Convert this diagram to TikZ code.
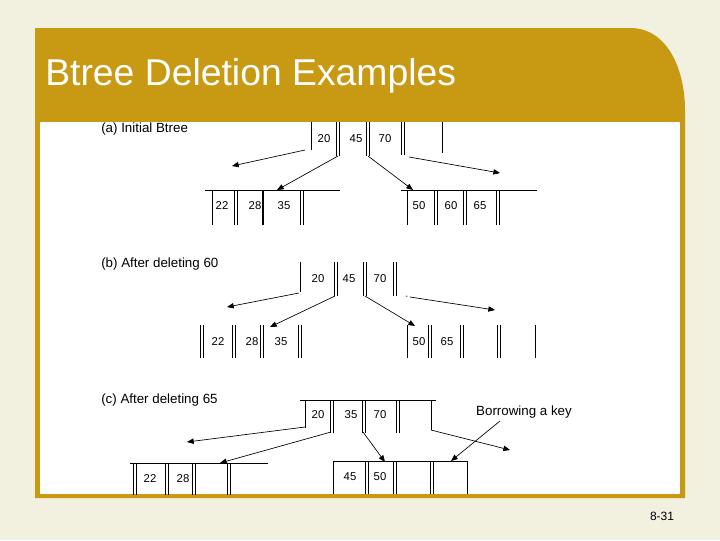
\documentclass[tikz,border=0pt]{standalone}
\usepackage{fontspec}
\setmainfont{Liberation Sans}
\definecolor{gold}{HTML}{C89A14}
\definecolor{bg}{HTML}{F2F0DE}
\tikzset{num/.style={font=\fontsize{8.5}{10}\selectfont,inner sep=0pt},
lab/.style={font=\fontsize{10}{12}\selectfont,inner sep=0pt,anchor=west},
ln/.style={line width=0.6pt},
ar/.style={-{Triangle[length=5pt,width=4pt]},line width=0.5pt}}
\usetikzlibrary{arrows.meta}
\newcommand{\sv}[3]{\draw[ln] (#1,#2)--(#1,#3);}
\newcommand{\dv}[3]{\draw[ln] (#1,#2)--(#1,#3); \draw[ln] ({#1+3.5},#2)--({#1+3.5},#3);}
\begin{document}
\begin{tikzpicture}[x=0.75pt,y=-0.75pt]
\fill[bg] (0,0) rectangle (720,540);
\useasboundingbox (0,0) rectangle (720,540);
\fill[gold] (35,28) -- (630,28) to[out=0,in=90] (685,110) -- (685,498) -- (35,498) -- cycle;
\fill[white] (40,122) rectangle (680,494);
\node[anchor=west,text=white,font=\fontsize{28}{32}\selectfont,inner sep=0pt] (title) at (45,76) {Btree Deletion Examples};
\node[font=\fontsize{9}{10}\selectfont,inner sep=0pt] (pg) at (662,516) {8-31};
% (a)
\node[lab] (la) at (101,129) {(a) Initial Btree};
\sv{311}{122}{150}\dv{336}{122}{156}\dv{366}{122}{156}\dv{401}{122}{155}\sv{442}{122}{153}
\node[num] (a20) at (324,139) {20};\node[num] (a45) at (356,139) {45};\node[num] (a70) at (385,139) {70};
\coordinate (a1) at (232,166);\coordinate (a2) at (500,173);
\draw[ar] (305,150)--(a1);\draw[ar] (338,156)--(277,190);\draw[ar] (368,156)--(413,190);\draw[ar] (409,157)--(a2);
\draw[ln] (205,190)--(340,190);
\sv{212}{190}{225}\dv{234}{190}{225}\draw[line width=1.2pt] (263,190)--(263,225);\dv{300}{190}{225}
\node[num] (a22) at (222,206) {22};\node[num] (a28) at (255,206) {28};\node[num] (a35) at (284,206) {35};
\draw[ln] (401,190)--(537,190);
\sv{407}{190}{225}\dv{434}{190}{225}\dv{463}{190}{225}\dv{496}{190}{225}
\node[num] (a50) at (419,206) {50};\node[num] (a60) at (451,206) {60};\node[num] (a65) at (480,206) {65};
% (b)
\node[lab] (lb) at (101,264) {(b) After deleting 60};
\sv{300}{262}{292}\dv{334}{262}{296}\dv{363}{262}{296}\dv{393}{262}{296}
\node[num] (b20) at (318,279) {20};\node[num] (b45) at (349,279) {45};\node[num] (b70) at (380,279) {70};
\coordinate (b1) at (227,307);\coordinate (b2) at (495,310);
\draw[ar] (299,293)--(b1);\draw[ar] (335,296)--(270,327);\draw[ar] (365,296)--(415,326);\draw[dashed,dash pattern=on 1pt off 2pt,line width=0.5pt] (406,296)--(410,297);\draw[ar] (410,297)--(b2);
\dv{200}{325}{358}\dv{232}{325}{358}\dv{260}{325}{358}\dv{298}{325}{358}
\node[num] (b22) at (218,342) {22};\node[num] (b28) at (252,342) {28};\node[num] (b35) at (281,342) {35};
\sv{407}{325}{358}\dv{428}{325}{358}\dv{460}{325}{358}\dv{497}{325}{358}\sv{535}{325}{358}
\node[num] (b50) at (419,342) {50};\node[num] (b65) at (447,342) {65};
% (c)
\node[lab] (lc) at (101,400) {(c) After deleting 65};
\draw[ln] (300,400)--(436,400);
\sv{305}{400}{428}\dv{330}{400}{433}\dv{362}{400}{433}\dv{396}{400}{433}\sv{431}{400}{430}
\node[num] (c20) at (318,415) {20};\node[num] (c35) at (351,415) {35};\node[num] (c70) at (380,415) {70};
\coordinate (c1) at (187,442);\coordinate (c2) at (510,450);
\draw[ar] (305,427)--(c1);\draw[ar] (331,432)--(220,463);\draw[ar] (363,432)--(385,462);\draw[ar] (431,430)--(c2);
\node[font=\fontsize{10}{12}\selectfont,inner sep=0pt] (bk) at (524,412) {Borrowing a key};
\draw[ar] (500,421)--(451,461);
\draw[ln] (130,463)--(268,463);
\dv{133}{463}{495}\dv{165}{463}{495}\dv{192}{463}{495}\dv{227}{463}{495}
\node[num] (c22) at (150,479) {22};\node[num] (c28) at (183,479) {28};
\draw[ln] (333,461)--(468,461);
\sv{333}{461}{494}\dv{365}{461}{494}\dv{393}{461}{494}\dv{430}{461}{494}\sv{467}{461}{494}
\node[num] (c45) at (350,477) {45};\node[num] (c50) at (380,477) {50};
\end{tikzpicture}
\end{document}
